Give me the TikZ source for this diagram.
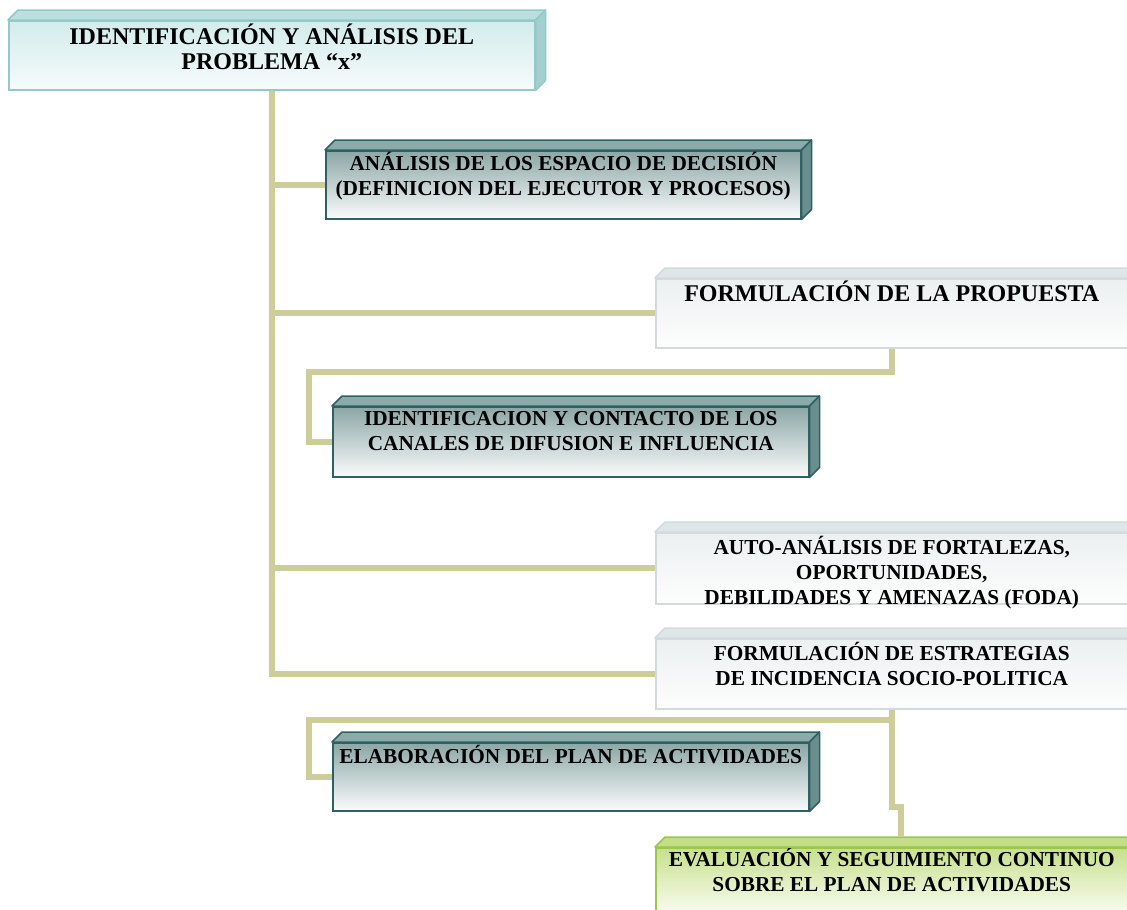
\documentclass[tikz,border=0pt]{standalone}
\usepackage{fontspec}
\setmainfont{Liberation Serif}
\usepackage{tikz}

\definecolor{cianBorde}{HTML}{93C9C9}
\definecolor{cianArriba}{HTML}{D3ECEC}
\definecolor{cianAbajo}{HTML}{F6FBFB}
\definecolor{cianTapa}{HTML}{BBDFDF}
\definecolor{cianLado}{HTML}{A3CFCF}
\definecolor{tealBorde}{HTML}{2E6262}
\definecolor{tealArriba}{HTML}{8CA6A6}
\definecolor{tealAbajo}{HTML}{FAFBFB}
\definecolor{tealTapa}{HTML}{8DAAAA}
\definecolor{tealLado}{HTML}{6A8D8D}
\definecolor{grisBorde}{HTML}{D2DADB}
\definecolor{grisArriba}{HTML}{ECF0F1}
\definecolor{grisAbajo}{HTML}{FDFDFD}
\definecolor{grisTapa}{HTML}{DFE6E8}
\definecolor{grisLado}{HTML}{D0D8DA}
\definecolor{verdeBorde}{HTML}{9BC64E}
\definecolor{verdeArriba}{HTML}{C6E08C}
\definecolor{verdeAbajo}{HTML}{FBFDF5}
\definecolor{verdeTapa}{HTML}{C3DE84}
\definecolor{verdeLado}{HTML}{A8CC66}
\definecolor{caqui}{HTML}{CDCD9A}

\tikzstyle{caja} = [rectangle,inner sep=0pt,line width=1.5pt,anchor=north west]
% tapa y lado de la caja 3D
\newcommand{\biselcaja}[2]{%
  \filldraw[draw=#2Borde,fill=#2Tapa,line width=1.5pt,line join=round]
    (#1.north west) -- ++(10,-10) -- ([shift={(10,-10)}]#1.north east) -- (#1.north east) -- cycle;
  \filldraw[draw=#2Borde,fill=#2Lado,line width=1.5pt,line join=round]
    (#1.north east) -- ++(10,-10) -- ([shift={(10,-10)}]#1.south east) -- (#1.south east) -- cycle;}

\begin{document}
\begin{tikzpicture}
		[
		x=1pt,y=-1pt,
		cian/.style={caja,draw=cianBorde,top color=cianArriba,bottom color=cianAbajo},
		teal/.style={caja,draw=tealBorde,top color=tealArriba,bottom color=tealAbajo},
		gris/.style={caja,draw=grisBorde,top color=grisArriba,bottom color=grisAbajo},
		verde/.style={caja,draw=verdeBorde,top color=verdeArriba,bottom color=verdeAbajo},
		texto/.style={font=\bfseries\fontsize{21.3}{25}\selectfont,align=center,inner sep=0pt,anchor=north},
		textogrande/.style={texto,font=\bfseries\fontsize{24}{25}\selectfont},
		conector/.style={draw=caqui,line width=6pt}
		]
		\path[use as bounding box,fill=white] (0,0) rectangle (1127,910);
		\node[cian,minimum width=526pt,minimum height=69pt,
		label={[textogrande,yshift=-4pt]north:{IDENTIFICACIÓN Y ANÁLISIS DEL\\PROBLEMA “x”}}] (prob) at (8,20) {};
		\node[teal,minimum width=475pt,minimum height=68pt,
		label={[texto,yshift=-2pt]north:{ANÁLISIS DE LOS ESPACIO DE DECISIÓN\\(DEFINICION DEL EJECUTOR Y PROCESOS)}}] (espacio) at (325,150) {};
		\node[gris,minimum width=472pt,minimum height=69pt,
		label={[textogrande,yshift=-3pt]north:{FORMULACIÓN DE LA PROPUESTA}}] (propuesta) at (655,278) {};
		\node[teal,minimum width=476pt,minimum height=70pt,
		label={[texto,yshift=-5pt]north:{IDENTIFICACION Y CONTACTO DE LOS\\CANALES DE DIFUSION E INFLUENCIA}}] (canales) at (332,406) {};
		\node[gris,minimum width=472pt,minimum height=71pt,
		label={[texto,yshift=-4pt]north:{AUTO-ANÁLISIS DE FORTALEZAS,\\OPORTUNIDADES,\\DEBILIDADES Y AMENAZAS (FODA)}}] (foda) at (655,532) {};
		\node[gris,minimum width=472pt,minimum height=70pt,
		label={[texto,yshift=-4pt]north:{FORMULACIÓN DE ESTRATEGIAS\\DE INCIDENCIA SOCIO-POLITICA}}] (estrat) at (655,638) {};
		\node[teal,minimum width=476pt,minimum height=68pt,
		label={[texto,yshift=-3pt]north:{ELABORACIÓN DEL PLAN DE ACTIVIDADES}}] (plan) at (332,742) {};
		\node[verde,minimum width=472pt,minimum height=68pt,
		label={[texto,yshift=-1pt]north:{EVALUACIÓN Y SEGUIMIENTO CONTINUO\\SOBRE EL PLAN DE ACTIVIDADES}}] (eval) at (655,847) {};

		\biselcaja{prob}{cian}
		\biselcaja{espacio}{teal}
		\biselcaja{propuesta}{gris}
		\biselcaja{canales}{teal}
		\biselcaja{foda}{gris}
		\biselcaja{estrat}{gris}
		\biselcaja{plan}{teal}
		\biselcaja{eval}{verde}

		% conectores
		\draw[conector] (prob.south) |- (estrat.west);
		\foreach \n in {espacio,propuesta,foda}
		\draw[conector] (prob.south |- \n.west) -- (\n.west);
		\draw[conector] (propuesta.south) -- ++(0,23) -| ([xshift=-23pt]canales.west) -- (canales.west);
		\draw[conector] (estrat.south) -- ++(0,10) -| ([xshift=-23pt]plan.west) -- (plan.west);
		\draw[conector] (estrat.south) -- ++(0,97) -| ([shift={(9,-10)}]eval.north);
		\end{tikzpicture}
\end{document}
